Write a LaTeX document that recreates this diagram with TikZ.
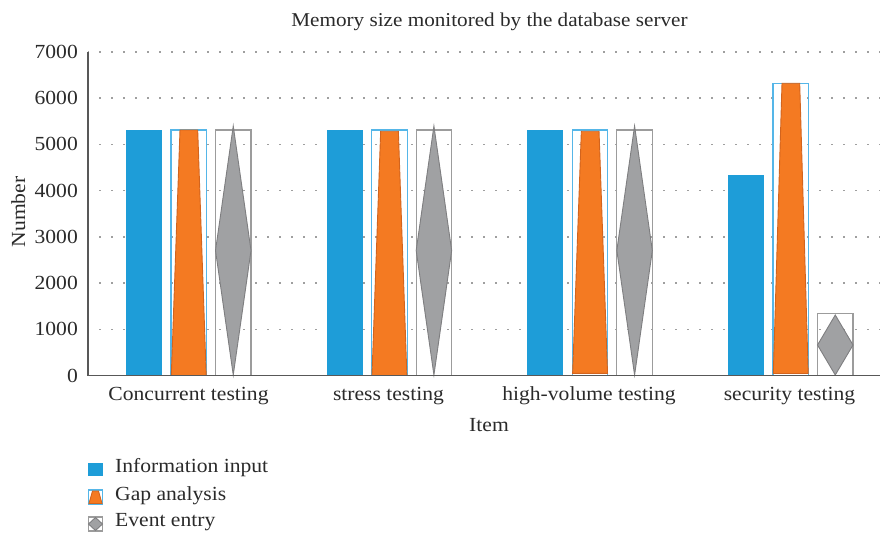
\documentclass[tikz,border=0pt]{standalone}
\usepackage{fontspec}
\setmainfont[FakeStretch=1.08]{Liberation Serif}
\definecolor{barblue}{HTML}{1E9DD8}
\definecolor{gapblue}{HTML}{55B6E8}
\definecolor{barorange}{HTML}{F47A22}
\definecolor{orangeedge}{HTML}{D2641E}
\definecolor{evgray}{HTML}{A0A1A3}
\definecolor{evedge}{HTML}{7E7E80}
\definecolor{evbox}{HTML}{9C9C9C}
\definecolor{axiscol}{HTML}{585858}
\definecolor{txt}{HTML}{2A2A2A}
\tikzset{
  gridline/.style={draw=gray!75, line width=1.6pt, dash pattern=on 1.6pt off 10.4pt, dash phase=0.8pt},
  axisline/.style={draw=axiscol, line width=1.6pt},
  infobar/.style={fill=barblue, draw=none},
  gapbox/.style={draw=gapblue, line width=1.2pt},
  gapfill/.style={fill=barorange, draw=orangeedge, line width=0.9pt, line join=miter},
  evbbox/.style={draw=evbox, line width=1.3pt},
  evfill/.style={fill=evgray, draw=evedge, line width=0.9pt},
  lbl/.style={inner sep=0pt, text=txt, font=\fontsize{20}{24}\selectfont},
  ttl/.style={inner sep=0pt, text=txt, font=\fontsize{19.6}{23}\selectfont},
}
\begin{document}
\begin{tikzpicture}[x=1pt,y=-1pt]
\useasboundingbox (0,0) rectangle (880,537);
% grid lines
\foreach \v in {1,...,7} {
  \draw[gridline] (88,{375.5-46.2*\v}) -- (880,{375.5-46.2*\v});
}
% y tick labels
\node[lbl, anchor=base east] (ytick0) at (78,382) {0};
\foreach \v in {1,...,7} {
  \node[lbl, anchor=base east] (ytick\v) at (78,{375.5-46.2*\v+6.5}) {\v000};
}
% bars per group: offset, blue top, gap box top, orange top, event box top, diamond top, orange bottom
\foreach \g/\bt/\gt/\ot/\et/\dt/\ob in {
   0/130/130/130/130/126/375.5,
   200.67/130/130/131.3/130/126/375.5,
   401.33/130/130/131.3/130/126/373.3,
   602/175/83.3/83.3/313.7/315/373.5} {
  \begin{scope}[shift={(\g,0)}]
    \fill[infobar] (126,\bt) rectangle (162,375.5);
    \draw[gapbox] (171,\gt) rectangle (206.5,375.5);
    \filldraw[gapfill] (171.3,\ob) -- (180,\ot) -- (197.7,\ot) -- (206.2,\ob) -- cycle;
    \draw[evbbox] (215.5,\et) rectangle (251,375.5);
    \filldraw[evfill] (233.25,\dt) -- (251,{(\dt+375)/2}) -- (233.25,375) -- (215.5,{(\dt+375)/2}) -- cycle;
  \end{scope}
}
% axes
\draw[axisline] (88,52.3) -- (88,375.5) -- (880,375.5);
% category labels
\node[lbl, anchor=base] (cat1) at (188.5,400.7) {Concurrent testing};
\node[lbl, anchor=base] (cat2) at (388.5,400.7) {stress testing};
\node[lbl, anchor=base] (cat3) at (589,400.7) {high-volume testing};
\node[lbl, anchor=base] (cat4) at (789.5,400.7) {security testing};
% axis titles
\node[lbl, anchor=base] (xtitle) at (489,431.7) {Item};
\node[lbl, anchor=base, rotate=90] (ytitle) at (25,212) {Number};
\node[ttl, anchor=base] (title) at (489.5,26.7) {Memory size monitored by the database server};
% legend
\fill[infobar] (88,462.5) rectangle (102.5,476);
\node[lbl, anchor=base west] (leg1) at (115,472.3) {Information input};
\draw[gapbox] (88.5,490) rectangle (102.5,504);
\filldraw[gapfill] (89,503.5) -- (92.5,491) -- (98.5,491) -- (102,503.5) -- cycle;
\node[lbl, anchor=base west] (leg2) at (115,500) {Gap analysis};
\draw[evbbox] (88.5,517) rectangle (102.5,531);
\filldraw[evfill] (95.5,517.5) -- (102.5,524) -- (95.5,530.5) -- (88.5,524) -- cycle;
\node[lbl, anchor=base west] (leg3) at (115,526.7) {Event entry};
\end{tikzpicture}
\end{document}
